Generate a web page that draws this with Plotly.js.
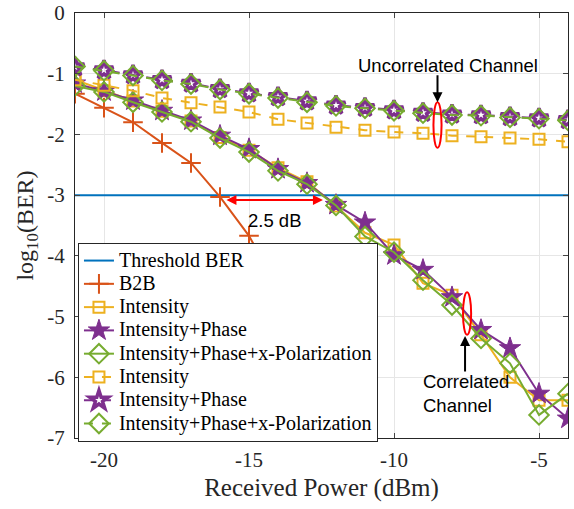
<!DOCTYPE html>
<html>
<head>
<meta charset="utf-8">
<script src="https://cdn.plot.ly/plotly-3.0.1.min.js"></script>
<style>
html,body{margin:0;padding:0;background:#fff;}
#chart{width:574px;height:509px;}
</style>
</head>
<body>
<div id="chart"></div>
<script>
// Received power (dBm)
const power = [-21,-20,-19,-18,-17,-16,-15,-14,-13,-12,-11,-10,-9,-8,-7,-6,-5,-4];
const thresholdX = [-21, -4];
const thresholdY = [-3, -3];
// B2B
const b2bX = [-21,-20,-19,-18,-17,-16,-15,-14,-13,-12];
const b2bY = [-1.33,-1.56,-1.80,-2.14,-2.47,-3.03,-3.67,-4.55,-5.65,-7.10];
// Correlated channel (solid)
const intCorr    = [-1.10,-1.28,-1.45,-1.62,-1.78,-2.05,-2.26,-2.55,-2.78,-3.18,-3.62,-3.82,-4.45,-4.65,-5.30,-6.00,-6.38,-6.38];
const intPhCorr  = [-1.16,-1.29,-1.44,-1.61,-1.77,-2.02,-2.24,-2.57,-2.80,-3.16,-3.45,-3.99,-4.23,-4.68,-5.22,-5.52,-6.27,-6.68];
const intPhXCorr = [-1.20,-1.30,-1.47,-1.63,-1.79,-2.06,-2.29,-2.60,-2.82,-3.17,-3.68,-3.94,-4.40,-4.81,-5.36,-5.77,-6.62,-6.27];
// Uncorrelated channel (dashed)
const intUnc     = [-1.10,-1.19,-1.28,-1.40,-1.48,-1.55,-1.63,-1.75,-1.81,-1.88,-1.93,-1.96,-1.98,-2.02,-2.04,-2.06,-2.08,-2.12];
const intPhUnc   = [-0.89,-0.94,-1.02,-1.10,-1.16,-1.25,-1.32,-1.38,-1.45,-1.52,-1.56,-1.60,-1.64,-1.67,-1.68,-1.71,-1.73,-1.76];
const intPhXUnc  = [-0.88,-0.95,-1.03,-1.11,-1.17,-1.26,-1.33,-1.40,-1.47,-1.53,-1.57,-1.61,-1.65,-1.68,-1.69,-1.72,-1.74,-1.77];
// Ticks
const xTickVals = [-20,-15,-10,-5];
const xTickText = ["-20","-15","-10","-5"];
const yTickVals = [0,-1,-2,-3,-4,-5,-6,-7];
const yTickText = ["0","-1","-2","-3","-4","-5","-6","-7"];
// Legend labels
const seriesNames = ['Threshold BER','B2B','Intensity','Intensity+Phase','Intensity+Phase+x-Polarization',
                     'Intensity','Intensity+Phase','Intensity+Phase+x-Polarization'];

const cBlue='#0072BD', cOrange='#D95319', cYellow='#EDB120', cPurple='#7E2F8E', cGreen='#77AC30';
const serif='"Liberation Serif", "Times New Roman", serif';
const sans='"Liberation Sans", Arial, sans-serif';
const lg = s => '<span style="font-size:20px">' + s + '</span>';

const traces = [
  {x:thresholdX, y:thresholdY, name:lg(seriesNames[0]), mode:'lines', line:{color:cBlue,width:2}},
  {x:b2bX, y:b2bY, name:lg(seriesNames[1]), mode:'lines+markers', line:{color:cOrange,width:2},
   marker:{symbol:'cross-thin-open', size:14, color:cOrange, line:{color:cOrange,width:2}}},
  {x:power, y:intCorr, name:lg(seriesNames[2]), mode:'lines+markers', line:{color:cYellow,width:2},
   marker:{symbol:'square-open', size:11, color:cYellow, line:{color:cYellow,width:2}}},
  {x:power, y:intPhCorr, name:lg(seriesNames[3]), mode:'lines+markers', line:{color:cPurple,width:2},
   marker:{symbol:'star', size:16, color:cPurple, line:{color:cPurple,width:1}}},
  {x:power, y:intPhXCorr, name:lg(seriesNames[4]), mode:'lines+markers', line:{color:cGreen,width:2},
   marker:{symbol:'diamond-open', size:15, color:cGreen, line:{color:cGreen,width:2}}},
  {x:power, y:intUnc, name:lg(seriesNames[5]), mode:'lines+markers', line:{color:cYellow,width:2,dash:'dash'},
   marker:{symbol:'square-open', size:11, color:cYellow, line:{color:cYellow,width:2}}},
  {x:power, y:intPhUnc, name:lg(seriesNames[6]), mode:'lines+markers', line:{color:cPurple,width:2,dash:'dash'},
   marker:{symbol:'star-open', size:14, color:cPurple, line:{color:cPurple,width:3.5}}},
  {x:power, y:intPhXUnc, name:lg(seriesNames[7]), mode:'lines+markers', line:{color:cGreen,width:2,dash:'dash'},
   marker:{symbol:'diamond-open', size:15, color:cGreen, line:{color:cGreen,width:2}}}
];

const layout = {
  width:574, height:509,
  margin:{l:75, r:6, t:13, b:71},
  paper_bgcolor:'#fff', plot_bgcolor:'#fff',
  showlegend:true,
  font:{family:serif, size:20, color:'#262626'},
  xaxis:{range:[-21,-4], tickvals:xTickVals, ticktext:xTickText, ticks:'inside', ticklen:5,
         showline:true, linecolor:'#262626', linewidth:1, mirror:'ticks', showgrid:true, gridcolor:'#e6e6e6',
         zeroline:false, tickfont:{family:serif,size:21,color:'#262626'}, ticklabelstandoff:3,
         title:{text:'Received Power (dBm)', font:{family:serif,size:25,color:'#262626'}, standoff:7}},
  yaxis:{range:[-7,0], tickvals:yTickVals, ticktext:yTickText, ticks:'inside', ticklen:5,
         showline:true, linecolor:'#262626', linewidth:1, mirror:'ticks', showgrid:true, gridcolor:'#e6e6e6',
         zeroline:false, tickfont:{family:serif,size:21,color:'#262626'}, ticklabelstandoff:5,
         title:{text:'log<sub>10</sub>(BER)', font:{family:serif,size:24,color:'#262626'}, standoff:6}},
  legend:{x:0.006, y:0.459, xanchor:'left', yanchor:'top', bgcolor:'#fff', bordercolor:'#262626', borderwidth:1,
          font:{family:serif,size:15.6,color:'#000'}, tracegroupgap:0, itemwidth:30},
  shapes:[
    {type:'circle', xref:'x', yref:'y', x0:-8.64, x1:-8.36, y0:-1.47, y1:-2.22, line:{color:'#ff0000',width:2}},
    {type:'circle', xref:'x', yref:'y', x0:-7.62, x1:-7.34, y0:-4.60, y1:-5.30, line:{color:'#ff0000',width:2}}
  ],
  annotations:[
    {x:-8.14, y:-0.86, xref:'x', yref:'y', text:'Uncorrelated Channel', showarrow:false,
     font:{family:sans,size:18.5,color:'#000'}},
    {x:-8.5, y:-1.47, ax:-8.5, ay:-1.0, xref:'x', yref:'y', axref:'x', ayref:'y', text:'', showarrow:true,
     arrowhead:2, arrowsize:1, arrowwidth:2, arrowcolor:'#000'},
    {x:-7.55, y:-5.32, ax:-7.55, ay:-5.93, xref:'x', yref:'y', axref:'x', ayref:'y', text:'', showarrow:true,
     arrowhead:2, arrowsize:1, arrowwidth:2, arrowcolor:'#000'},
    {x:-9.07, y:-6.27, xref:'x', yref:'y', xanchor:'left', yanchor:'middle', align:'left',
     text:'Correlated<br>Channel', showarrow:false, font:{family:sans,size:18.5,color:'#000'}},
    {x:-12.45, y:-3.08, ax:-15.83, ay:-3.08, xref:'x', yref:'y', axref:'x', ayref:'y', text:'', showarrow:true,
     arrowhead:2, startarrowhead:2, arrowside:'end+start', arrowsize:1, arrowwidth:2, arrowcolor:'#ff0000'},
    {x:-14.1, y:-3.41, xref:'x', yref:'y', text:'2.5 dB', showarrow:false, font:{family:sans,size:18.5,color:'#000'}}
  ]
};

Plotly.newPlot('chart', traces, layout, {displayModeBar:false, staticPlot:true});
</script>
</body>
</html>
